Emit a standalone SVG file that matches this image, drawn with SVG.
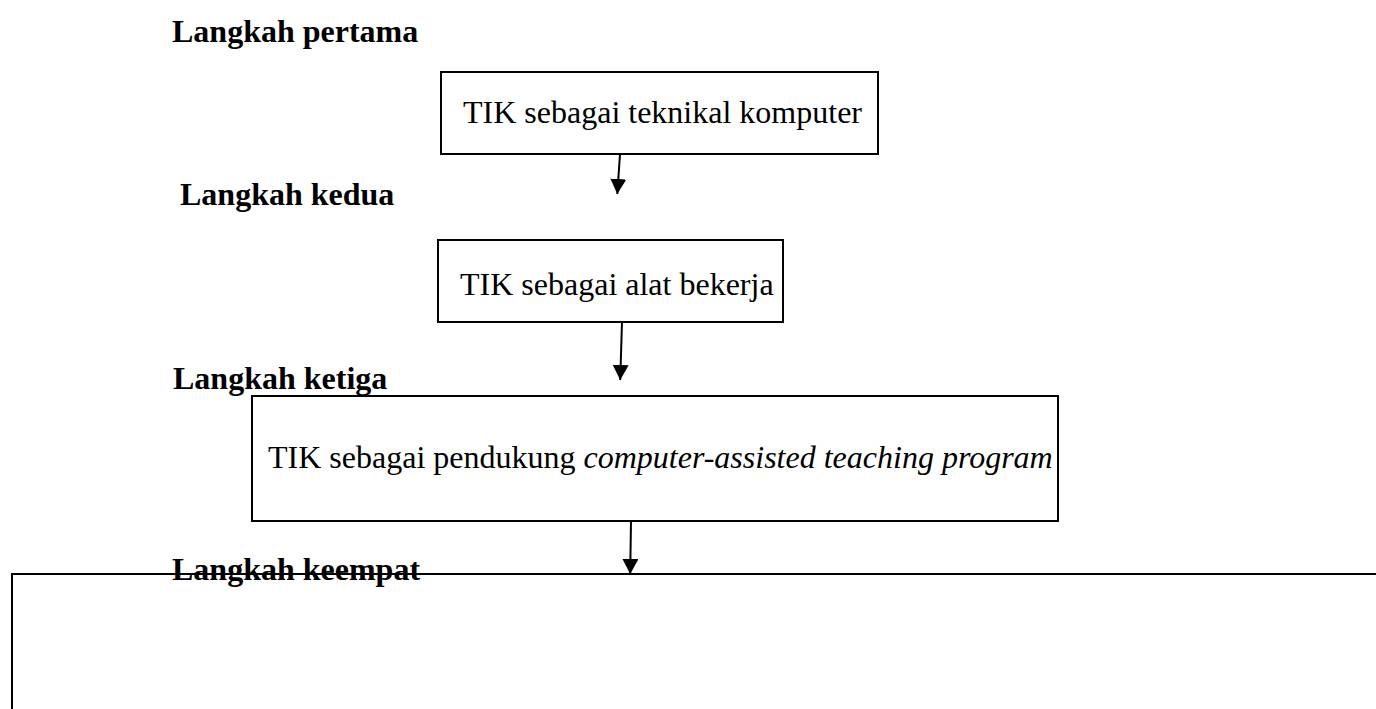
<svg xmlns="http://www.w3.org/2000/svg" width="1376" height="709" viewBox="0 0 1376 709">
<style>
.box{fill:#fff;stroke:#000;stroke-width:2}
.lbl{font-family:"Liberation Serif","Times New Roman",serif;font-size:32px;font-weight:bold;fill:#000}
.txt{font-family:"Liberation Serif","Times New Roman",serif;font-size:32px;fill:#000}
.conn{stroke:#000;stroke-width:2;fill:none}
</style>
<defs>
<marker id="ah" markerWidth="16" markerHeight="16" refX="15" refY="8" orient="auto" markerUnits="userSpaceOnUse">
<path d="M0,0 L15,8 L0,16 Z" fill="#000"/>
</marker>
</defs>
<rect width="1376" height="709" fill="#fff"/>
<g id="label1"><text class="lbl" x="172" y="42">Langkah pertama</text></g>
<g id="node1">
<rect class="box" x="441" y="72" width="437" height="82"/>
<text class="txt" x="463" y="123">TIK sebagai teknikal komputer</text>
</g>
<g id="label2"><text class="lbl" x="180" y="205">Langkah kedua</text></g>
<g id="node2">
<rect class="box" x="438" y="240" width="345" height="82"/>
<text class="txt" x="460" y="295">TIK sebagai alat bekerja</text>
</g>
<g id="label3"><text class="lbl" x="173" y="389">Langkah ketiga</text></g>
<g id="node3">
<rect class="box" x="252" y="396" width="806" height="125"/>
<text class="txt" x="268" y="468">TIK sebagai pendukung <tspan font-style="italic">computer-assisted teaching program</tspan></text>
</g>
<g id="node4">
<rect class="box" x="12" y="574" width="1380" height="160"/>
</g>
<g id="label4"><text class="lbl" x="172" y="580">Langkah keempat</text></g>
<g id="connectors">
<line class="conn" x1="620" y1="154" x2="617.3" y2="194" marker-end="url(#ah)"/>
<line class="conn" x1="622" y1="322" x2="620.2" y2="380" marker-end="url(#ah)"/>
<line class="conn" x1="631" y1="521" x2="630.2" y2="574" marker-end="url(#ah)"/>
</g>
</svg>
